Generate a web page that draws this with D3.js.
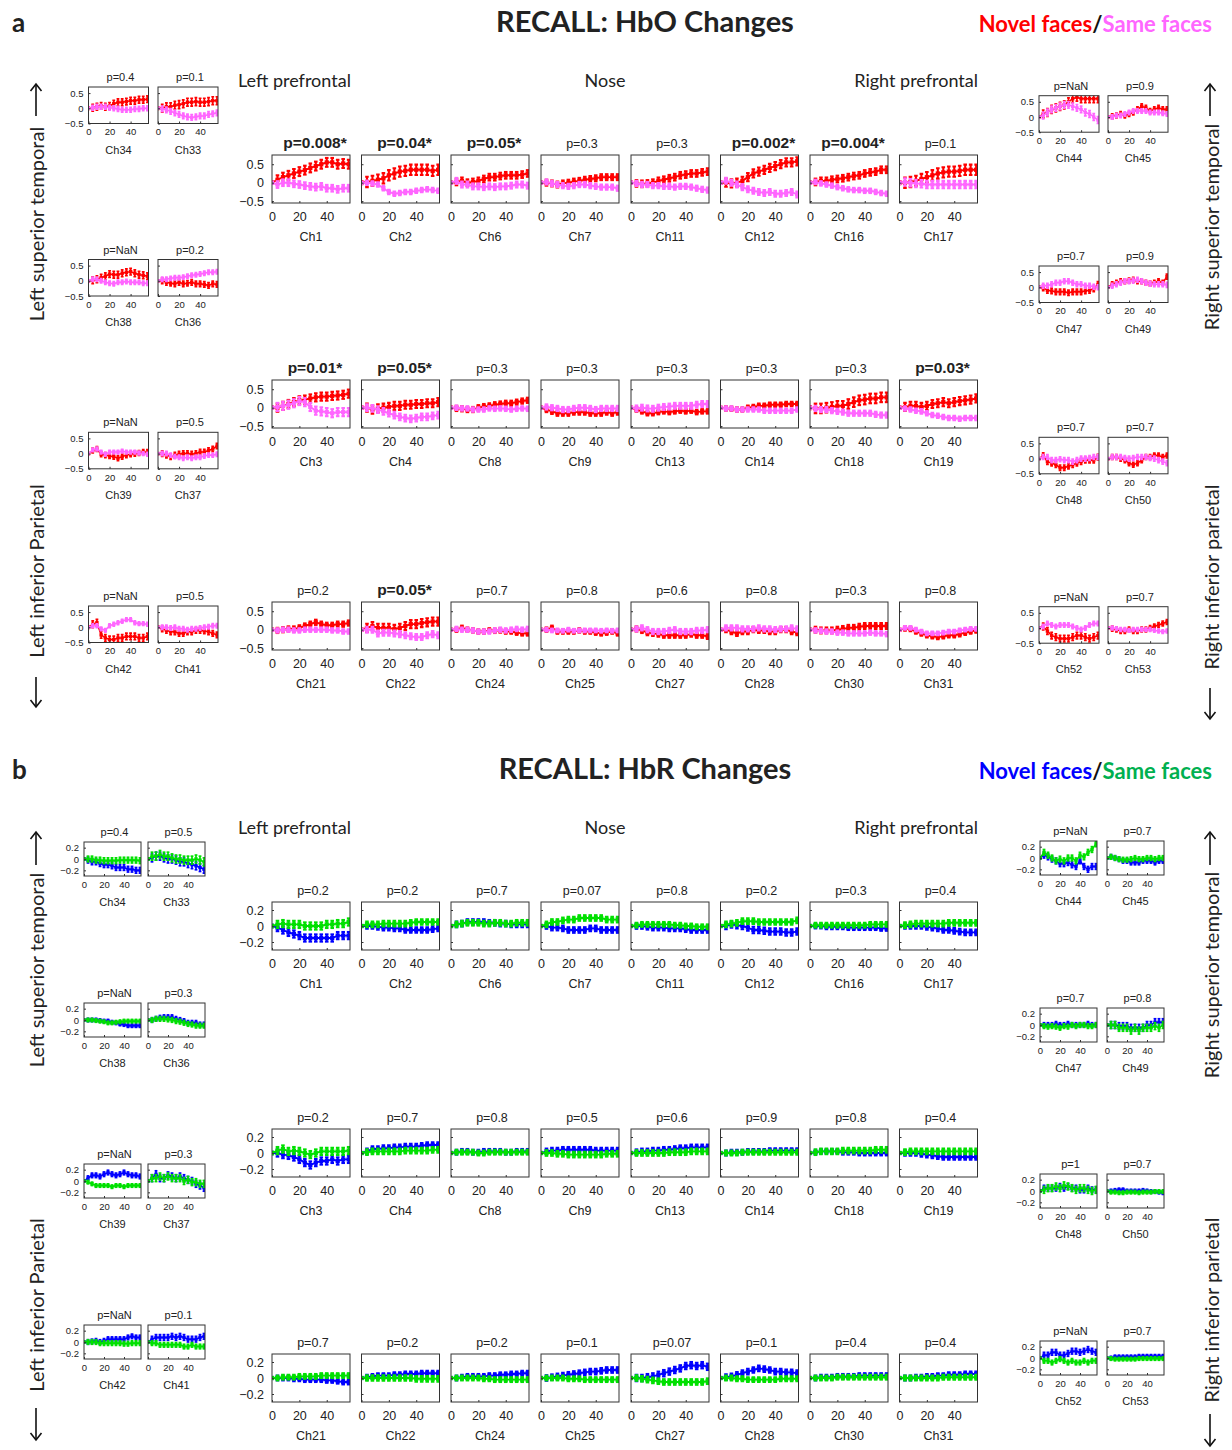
<!DOCTYPE html>
<html>
<head>
<meta charset="utf-8">
<script src="https://cdn.jsdelivr.net/npm/d3@7"></script>
<style>
  body { margin: 0; background: #fff; }
  svg text { font-family: "Liberation Sans", Arial, sans-serif; fill: #222; }
  svg text.cal { font-family: Lato, "Open Sans", sans-serif; }
</style>
</head>
<body>
<svg id="chart" width="1232" height="1450"></svg>
<script>
// time (s) of each sampled point
const timePoints = [0, 4, 8, 12, 16, 20, 24, 28, 32, 36, 40, 44, 48, 52, 56];

// channel layout
const midRows = [
  ["Ch1", "Ch2", "Ch6", "Ch7", "Ch11", "Ch12", "Ch16", "Ch17"],
  ["Ch3", "Ch4", "Ch8", "Ch9", "Ch13", "Ch14", "Ch18", "Ch19"],
  ["Ch21", "Ch22", "Ch24", "Ch25", "Ch27", "Ch28", "Ch30", "Ch31"]
];
const leftRows = [["Ch34", "Ch33"], ["Ch38", "Ch36"], ["Ch39", "Ch37"], ["Ch42", "Ch41"]];
const rightRows = [["Ch44", "Ch45"], ["Ch47", "Ch49"], ["Ch48", "Ch50"], ["Ch52", "Ch53"]];

// ---------- HbO ----------
const hboP = {
  Ch1: "0.008*", Ch2: "0.04*", Ch6: "0.05*", Ch7: "0.3", Ch11: "0.3", Ch12: "0.002*", Ch16: "0.004*", Ch17: "0.1",
  Ch3: "0.01*", Ch4: "0.05*", Ch8: "0.3", Ch9: "0.3", Ch13: "0.3", Ch14: "0.3", Ch18: "0.3", Ch19: "0.03*",
  Ch21: "0.2", Ch22: "0.05*", Ch24: "0.7", Ch25: "0.8", Ch27: "0.6", Ch28: "0.8", Ch30: "0.3", Ch31: "0.8",
  Ch34: "0.4", Ch33: "0.1", Ch38: "NaN", Ch36: "0.2", Ch39: "NaN", Ch37: "0.5", Ch42: "NaN", Ch41: "0.5",
  Ch44: "NaN", Ch45: "0.9", Ch47: "0.7", Ch49: "0.9", Ch48: "0.7", Ch50: "0.7", Ch52: "NaN", Ch53: "0.7"
};
const hboNovel = {
  Ch1: [0, 0.08, 0.15, 0.2, 0.25, 0.3, 0.34, 0.4, 0.45, 0.5, 0.55, 0.55, 0.5, 0.52, 0.5],
  Ch2: [0, 0.02, 0.05, 0.08, 0.12, 0.2, 0.25, 0.3, 0.32, 0.35, 0.35, 0.35, 0.35, 0.32, 0.35],
  Ch6: [0, 0.02, 0.05, 0, 0.02, 0.05, 0.1, 0.15, 0.15, 0.18, 0.2, 0.2, 0.2, 0.22, 0.25],
  Ch7: [0, 0, -0.02, -0.05, -0.02, 0, 0.03, 0.05, 0.08, 0.1, 0.12, 0.15, 0.15, 0.15, 0.15],
  Ch11: [0, -0.02, -0.03, -0.02, 0, 0.05, 0.08, 0.12, 0.15, 0.2, 0.22, 0.25, 0.25, 0.28, 0.3],
  Ch12: [0, 0, -0.02, 0, 0.05, 0.15, 0.25, 0.3, 0.35, 0.4, 0.45, 0.5, 0.55, 0.55, 0.58],
  Ch16: [0, 0.02, 0.05, 0.05, 0.08, 0.1, 0.12, 0.15, 0.18, 0.2, 0.25, 0.28, 0.3, 0.35, 0.35],
  Ch17: [0, 0, 0.02, 0.05, 0.1, 0.15, 0.2, 0.25, 0.28, 0.3, 0.3, 0.32, 0.35, 0.35, 0.35],
  Ch3: [0, 0, 0.05, 0.1, 0.15, 0.2, 0.22, 0.25, 0.28, 0.3, 0.3, 0.32, 0.33, 0.35, 0.38],
  Ch4: [0, 0, -0.05, -0.02, 0, 0.02, 0.05, 0.05, 0.08, 0.08, 0.1, 0.1, 0.12, 0.12, 0.15],
  Ch8: [0, -0.02, -0.03, -0.05, -0.05, 0, 0.03, 0.05, 0.08, 0.1, 0.12, 0.12, 0.15, 0.18, 0.2],
  Ch9: [0, -0.05, -0.1, -0.15, -0.15, -0.15, -0.12, -0.12, -0.12, -0.15, -0.15, -0.15, -0.12, -0.15, -0.12],
  Ch13: [0, -0.05, -0.1, -0.15, -0.15, -0.12, -0.1, -0.12, -0.1, -0.08, -0.1, -0.08, -0.12, -0.1, -0.1],
  Ch14: [0, -0.02, -0.03, -0.05, -0.05, 0, 0.02, 0.05, 0.05, 0.08, 0.08, 0.08, 0.1, 0.1, 0.1],
  Ch18: [0, -0.02, -0.02, 0, 0.02, 0.05, 0.05, 0.1, 0.15, 0.2, 0.22, 0.25, 0.25, 0.28, 0.28],
  Ch19: [0, 0.02, 0.05, 0.05, 0.02, 0.05, 0.1, 0.12, 0.15, 0.12, 0.15, 0.18, 0.2, 0.22, 0.25],
  Ch21: [0, -0.02, 0, 0.02, 0.02, 0.05, 0.1, 0.15, 0.2, 0.15, 0.12, 0.12, 0.15, 0.15, 0.18],
  Ch22: [0, 0.05, 0.1, 0.05, 0.05, 0.05, 0.02, 0.05, 0.1, 0.15, 0.15, 0.18, 0.2, 0.22, 0.22],
  Ch24: [0, 0, 0.05, 0, -0.02, -0.05, -0.05, -0.02, -0.03, -0.02, -0.05, -0.05, -0.08, -0.1, -0.1],
  Ch25: [0, 0, 0.05, -0.05, -0.05, -0.05, -0.05, -0.02, -0.05, -0.05, -0.08, -0.1, -0.08, -0.05, -0.1],
  Ch27: [0, 0.02, -0.02, -0.08, -0.1, -0.12, -0.15, -0.15, -0.15, -0.15, -0.15, -0.12, -0.15, -0.15, -0.18],
  Ch28: [0, 0, -0.05, -0.1, -0.05, -0.05, 0, -0.02, -0.02, -0.05, -0.05, 0, 0, -0.05, -0.08],
  Ch30: [0, 0, -0.02, -0.02, -0.02, 0, 0.02, 0.05, 0.05, 0.08, 0.1, 0.1, 0.1, 0.1, 0.1],
  Ch31: [0, 0.03, 0.02, -0.05, -0.1, -0.15, -0.18, -0.2, -0.18, -0.15, -0.15, -0.12, -0.08, -0.05, -0.02],
  Ch34: [0, 0.02, 0.05, 0.08, 0.05, 0.08, 0.15, 0.2, 0.2, 0.22, 0.25, 0.25, 0.28, 0.28, 0.3],
  Ch33: [0, 0, 0.05, 0.05, 0.1, 0.12, 0.15, 0.2, 0.2, 0.22, 0.2, 0.2, 0.22, 0.25, 0.25],
  Ch38: [0, 0.02, 0.05, 0.1, 0.15, 0.22, 0.2, 0.2, 0.25, 0.28, 0.3, 0.25, 0.2, 0.18, 0.15],
  Ch36: [0, 0, -0.05, -0.08, -0.1, -0.05, -0.1, -0.08, -0.05, -0.1, -0.1, -0.12, -0.15, -0.1, -0.12],
  Ch39: [0, 0.1, 0.15, -0.02, -0.05, -0.08, -0.1, -0.15, -0.1, -0.05, -0.02, 0, 0.02, 0.05, 0.05],
  Ch37: [0, 0, -0.05, -0.1, -0.05, -0.02, 0, 0, -0.02, 0, 0.05, 0.05, 0.1, 0.15, 0.25],
  Ch42: [0, 0.1, 0.15, -0.25, -0.35, -0.4, -0.4, -0.35, -0.35, -0.3, -0.3, -0.3, -0.35, -0.35, -0.3],
  Ch41: [0, -0.05, -0.1, -0.15, -0.15, -0.2, -0.2, -0.15, -0.15, -0.1, -0.1, -0.12, -0.15, -0.2, -0.25],
  Ch44: [0, 0.1, 0.15, 0.25, 0.3, 0.35, 0.4, 0.5, 0.6, 0.65, 0.6, 0.6, 0.6, 0.6, 0.6],
  Ch45: [0, 0.02, 0.05, 0.1, 0.05, 0.1, 0.15, 0.25, 0.35, 0.3, 0.2, 0.25, 0.3, 0.25, 0.25],
  Ch47: [0, -0.02, -0.1, -0.12, -0.15, -0.15, -0.15, -0.18, -0.15, -0.15, -0.15, -0.12, -0.1, -0.05, 0.1],
  Ch49: [0, 0.1, 0.15, 0.2, 0.2, 0.22, 0.25, 0.2, 0.2, 0.15, 0.12, 0.15, 0.2, 0.15, 0.35],
  Ch48: [0, 0.1, -0.1, -0.15, -0.2, -0.3, -0.3, -0.25, -0.2, -0.15, -0.1, -0.05, -0.05, -0.05, 0.05],
  Ch50: [0, 0.05, 0.05, 0, -0.05, -0.15, -0.2, -0.15, -0.05, 0.05, 0.05, 0.1, 0.1, 0.05, 0.1],
  Ch52: [0, 0.05, -0.1, -0.25, -0.3, -0.35, -0.35, -0.35, -0.3, -0.25, -0.25, -0.3, -0.35, -0.3, -0.25],
  Ch53: [0, -0.02, -0.05, -0.1, -0.1, -0.05, -0.1, -0.1, -0.05, -0.05, 0, 0.05, 0.1, 0.15, 0.2]
};
const hboSame = {
  Ch1: [0, -0.05, 0, 0, -0.03, -0.05, -0.08, -0.1, -0.12, -0.1, -0.15, -0.15, -0.18, -0.15, -0.15],
  Ch2: [0, 0, -0.02, -0.05, -0.15, -0.25, -0.3, -0.28, -0.25, -0.25, -0.22, -0.2, -0.18, -0.2, -0.22],
  Ch6: [0, 0.05, -0.05, -0.05, -0.1, -0.1, -0.12, -0.1, -0.12, -0.1, -0.1, -0.08, -0.05, -0.05, -0.08],
  Ch7: [0, 0.02, -0.02, -0.05, -0.08, -0.1, -0.08, -0.05, -0.05, -0.08, -0.1, -0.12, -0.12, -0.12, -0.15],
  Ch11: [0, -0.02, -0.05, -0.05, -0.08, -0.08, -0.1, -0.1, -0.12, -0.1, -0.1, -0.12, -0.15, -0.18, -0.2],
  Ch12: [0, 0.05, 0, -0.05, -0.12, -0.18, -0.22, -0.25, -0.28, -0.25, -0.3, -0.3, -0.28, -0.25, -0.32],
  Ch16: [0, 0.02, -0.02, -0.05, -0.08, -0.12, -0.15, -0.18, -0.2, -0.2, -0.22, -0.22, -0.25, -0.28, -0.3],
  Ch17: [0, 0.02, 0, -0.02, -0.03, -0.05, -0.05, -0.05, -0.05, -0.05, -0.05, -0.05, -0.05, -0.05, -0.05],
  Ch3: [0, 0.02, 0.05, 0.08, 0.12, 0.18, 0.15, 0.02, -0.08, -0.1, -0.12, -0.15, -0.12, -0.12, -0.12],
  Ch4: [0, 0, -0.02, -0.05, -0.1, -0.15, -0.2, -0.25, -0.28, -0.3, -0.28, -0.25, -0.25, -0.22, -0.2],
  Ch8: [0, 0, -0.02, -0.02, -0.05, -0.05, -0.05, -0.02, -0.03, -0.02, -0.03, -0.05, -0.03, -0.02, -0.03],
  Ch9: [0, 0.02, 0, -0.02, -0.05, -0.05, -0.02, 0, 0, -0.02, -0.05, -0.02, -0.02, -0.02, -0.02],
  Ch13: [0, -0.02, 0, -0.02, -0.03, 0, 0.02, 0.03, 0.05, 0.05, 0.05, 0.05, 0.08, 0.1, 0.1],
  Ch14: [0, -0.02, -0.02, -0.05, -0.05, -0.05, -0.05, -0.05, -0.08, -0.08, -0.08, -0.08, -0.08, -0.08, -0.05],
  Ch18: [0, -0.02, -0.05, -0.05, -0.08, -0.1, -0.12, -0.15, -0.15, -0.15, -0.15, -0.15, -0.18, -0.2, -0.2],
  Ch19: [0, -0.02, -0.05, -0.08, -0.1, -0.15, -0.2, -0.22, -0.25, -0.28, -0.28, -0.3, -0.28, -0.28, -0.28],
  Ch21: [0, -0.02, 0, 0, -0.02, -0.02, 0, 0, 0, 0, 0, -0.02, -0.02, -0.05, -0.05],
  Ch22: [0, 0, 0, -0.1, -0.08, -0.08, -0.1, -0.12, -0.15, -0.18, -0.2, -0.2, -0.15, -0.12, -0.15],
  Ch24: [0, 0.02, 0, 0, -0.02, -0.05, -0.05, -0.05, -0.02, 0, -0.02, 0, 0.02, 0, 0.02],
  Ch25: [0, 0, -0.02, -0.02, -0.03, 0, -0.03, -0.02, -0.02, -0.02, -0.02, -0.03, -0.02, -0.03, -0.02],
  Ch27: [0, 0.02, 0.05, 0, -0.05, -0.05, -0.05, -0.02, 0, -0.05, -0.05, -0.05, -0.02, -0.02, 0],
  Ch28: [0, 0.05, 0.05, 0.05, 0.02, 0.02, 0.02, 0.05, 0.02, 0.02, 0, 0.02, 0.02, 0.05, 0.02],
  Ch30: [0, -0.02, -0.03, -0.05, -0.05, -0.08, -0.08, -0.1, -0.1, -0.1, -0.1, -0.08, -0.1, -0.1, -0.12],
  Ch31: [0, 0.05, 0.05, 0, -0.05, -0.1, -0.1, -0.1, -0.08, -0.05, -0.05, -0.02, 0, 0.02, 0.02],
  Ch34: [0, 0.02, 0.05, 0.05, 0.05, 0.02, 0, -0.02, -0.05, -0.05, -0.05, -0.02, -0.02, 0, 0],
  Ch33: [0, -0.02, -0.05, -0.1, -0.15, -0.2, -0.25, -0.28, -0.3, -0.28, -0.25, -0.25, -0.2, -0.18, -0.15],
  Ch38: [0, 0.05, 0.05, 0, -0.05, -0.08, -0.1, -0.05, -0.05, -0.02, -0.05, -0.05, -0.05, -0.08, -0.08],
  Ch36: [0, 0.05, 0.05, 0.08, 0.1, 0.1, 0.12, 0.15, 0.18, 0.2, 0.22, 0.25, 0.28, 0.28, 0.3],
  Ch39: [0, 0.12, 0.15, 0.05, -0.02, 0.05, 0.05, 0.05, 0.08, 0.05, 0.05, 0.05, 0.02, 0, -0.02],
  Ch37: [0, 0, 0, -0.05, -0.1, -0.12, -0.15, -0.12, -0.15, -0.12, -0.12, -0.08, -0.05, -0.05, -0.02],
  Ch42: [0, 0.05, 0.05, -0.05, -0.1, 0.05, 0.1, 0.15, 0.2, 0.25, 0.25, 0.15, 0.12, 0.12, 0.1],
  Ch41: [0, 0, 0, -0.02, 0, -0.05, -0.05, -0.08, -0.05, -0.05, -0.02, 0, 0.02, 0.05, 0.05],
  Ch44: [0, 0.05, 0.15, 0.25, 0.3, 0.35, 0.4, 0.4, 0.35, 0.3, 0.25, 0.15, 0.1, 0, -0.1],
  Ch45: [0, 0, 0.05, 0.05, 0.1, 0.15, 0.2, 0.2, 0.2, 0.2, 0.15, 0.15, 0.15, 0.12, 0.1],
  Ch47: [0, 0.05, 0.05, 0.1, 0.15, 0.15, 0.2, 0.2, 0.15, 0.1, 0.1, 0.05, 0.05, 0.02, 0],
  Ch49: [0, 0.05, 0.1, 0.15, 0.2, 0.2, 0.22, 0.25, 0.2, 0.15, 0.12, 0.1, 0.1, 0.1, 0.08],
  Ch48: [0, 0.05, 0.05, -0.05, -0.05, -0.02, -0.05, -0.05, -0.1, -0.05, 0, 0, 0.02, 0.05, 0.05],
  Ch50: [0, 0.05, 0.05, 0.05, 0.02, 0, 0.02, 0.05, 0.05, 0.05, 0.02, 0, -0.05, -0.1, -0.15],
  Ch52: [0, 0.05, 0.15, 0.1, 0.05, 0.1, 0.1, 0.1, 0.05, 0, -0.05, 0, 0.1, 0.15, 0.15],
  Ch53: [0, 0, -0.02, -0.05, -0.05, -0.08, -0.05, -0.05, -0.05, -0.05, -0.05, -0.08, -0.1, -0.12, -0.1]
};
const hboNovelErr = {
  Ch1: 0.12, Ch2: 0.14, Ch6: 0.09, Ch7: 0.08, Ch11: 0.09, Ch12: 0.11, Ch16: 0.09, Ch17: 0.14,
  Ch3: 0.11, Ch4: 0.11, Ch8: 0.07, Ch9: 0.07, Ch13: 0.06, Ch14: 0.06, Ch18: 0.13, Ch19: 0.11,
  Ch21: 0.07, Ch22: 0.11, Ch24: 0.06, Ch25: 0.06, Ch27: 0.07, Ch28: 0.07, Ch30: 0.08, Ch31: 0.06,
  Ch34: 0.11, Ch33: 0.13, Ch38: 0.11, Ch36: 0.09, Ch39: 0.08, Ch37: 0.09, Ch42: 0.11, Ch41: 0.09,
  Ch44: 0.13, Ch45: 0.08, Ch47: 0.09, Ch49: 0.08, Ch48: 0.09, Ch50: 0.08, Ch52: 0.11, Ch53: 0.08
};
const hboSameErr = {
  Ch1: 0.09, Ch2: 0.06, Ch6: 0.08, Ch7: 0.07, Ch11: 0.07, Ch12: 0.08, Ch16: 0.06, Ch17: 0.1,
  Ch3: 0.11, Ch4: 0.09, Ch8: 0.06, Ch9: 0.07, Ch13: 0.08, Ch14: 0.06, Ch18: 0.07, Ch19: 0.06,
  Ch21: 0.06, Ch22: 0.08, Ch24: 0.06, Ch25: 0.05, Ch27: 0.07, Ch28: 0.07, Ch30: 0.06, Ch31: 0.05,
  Ch34: 0.08, Ch33: 0.09, Ch38: 0.07, Ch36: 0.07, Ch39: 0.06, Ch37: 0.07, Ch42: 0.06, Ch41: 0.07,
  Ch44: 0.11, Ch45: 0.07, Ch47: 0.08, Ch49: 0.08, Ch48: 0.08, Ch50: 0.08, Ch52: 0.07, Ch53: 0.06
};

// ---------- HbR ----------
const hbrP = {
  Ch1: "0.2", Ch2: "0.2", Ch6: "0.7", Ch7: "0.07", Ch11: "0.8", Ch12: "0.2", Ch16: "0.3", Ch17: "0.4",
  Ch3: "0.2", Ch4: "0.7", Ch8: "0.8", Ch9: "0.5", Ch13: "0.6", Ch14: "0.9", Ch18: "0.8", Ch19: "0.4",
  Ch21: "0.7", Ch22: "0.2", Ch24: "0.2", Ch25: "0.1", Ch27: "0.07", Ch28: "0.1", Ch30: "0.4", Ch31: "0.4",
  Ch34: "0.4", Ch33: "0.5", Ch38: "NaN", Ch36: "0.3", Ch39: "NaN", Ch37: "0.3", Ch42: "NaN", Ch41: "0.1",
  Ch44: "NaN", Ch45: "0.7", Ch47: "0.7", Ch49: "0.8", Ch48: "1", Ch50: "0.7", Ch52: "NaN", Ch53: "0.7"
};
const hbrNovel = {
  Ch1: [0, -0.02, -0.05, -0.08, -0.1, -0.12, -0.15, -0.15, -0.15, -0.15, -0.15, -0.15, -0.12, -0.12, -0.12],
  Ch2: [0, 0, 0, -0.01, -0.02, -0.02, -0.03, -0.03, -0.05, -0.05, -0.05, -0.05, -0.05, -0.04, -0.03],
  Ch6: [0, 0.02, 0.03, 0.05, 0.05, 0.05, 0.05, 0.04, 0.04, 0.03, 0.03, 0.02, 0.02, 0.02, 0.02],
  Ch7: [0, 0, -0.02, -0.02, -0.03, -0.05, -0.05, -0.05, -0.05, -0.03, -0.03, -0.05, -0.05, -0.05, -0.05],
  Ch11: [0, 0, 0, -0.01, -0.02, -0.02, -0.02, -0.03, -0.03, -0.03, -0.04, -0.05, -0.05, -0.05, -0.05],
  Ch12: [0, 0, 0.02, 0.01, 0, -0.02, -0.05, -0.05, -0.06, -0.07, -0.07, -0.07, -0.08, -0.08, -0.07],
  Ch16: [0, 0, 0, -0.01, -0.01, -0.01, -0.01, -0.02, -0.02, -0.02, -0.02, -0.02, -0.02, -0.03, -0.03],
  Ch17: [0, 0, 0, 0, 0, -0.01, -0.02, -0.03, -0.05, -0.05, -0.06, -0.07, -0.08, -0.08, -0.08],
  Ch3: [0, 0, -0.02, -0.03, -0.05, -0.08, -0.12, -0.15, -0.12, -0.1, -0.1, -0.08, -0.1, -0.08, -0.08],
  Ch4: [0, 0.02, 0.05, 0.05, 0.06, 0.06, 0.07, 0.07, 0.08, 0.08, 0.08, 0.09, 0.1, 0.1, 0.1],
  Ch8: [0, 0.01, 0.02, 0.02, 0.01, 0.01, 0.02, 0.02, 0.02, 0.02, 0.01, 0.01, 0.02, 0.02, 0.02],
  Ch9: [0, 0.02, 0.03, 0.03, 0.04, 0.04, 0.04, 0.04, 0.04, 0.04, 0.03, 0.03, 0.03, 0.03, 0.03],
  Ch13: [0, 0.01, 0.02, 0.02, 0.03, 0.03, 0.04, 0.04, 0.05, 0.06, 0.06, 0.07, 0.07, 0.07, 0.07],
  Ch14: [0, 0, 0.01, 0.01, 0.01, 0.02, 0.02, 0.02, 0.02, 0.03, 0.03, 0.03, 0.03, 0.03, 0.03],
  Ch18: [0, 0.01, 0.02, 0.02, 0.02, 0.02, 0.01, 0.01, 0.01, 0, 0, 0, 0, 0, 0],
  Ch19: [0, 0, 0, 0, -0.01, -0.02, -0.03, -0.04, -0.05, -0.05, -0.05, -0.05, -0.05, -0.05, -0.05],
  Ch21: [0, 0, 0, 0, -0.01, -0.01, -0.02, -0.02, -0.02, -0.02, -0.03, -0.03, -0.04, -0.05, -0.05],
  Ch22: [0, 0.01, 0.02, 0.03, 0.03, 0.03, 0.04, 0.04, 0.05, 0.05, 0.05, 0.06, 0.06, 0.06, 0.06],
  Ch24: [0, 0, 0.01, 0.02, 0.02, 0.02, 0.02, 0.03, 0.03, 0.04, 0.04, 0.05, 0.05, 0.06, 0.06],
  Ch25: [0, 0, 0.01, 0.02, 0.03, 0.04, 0.05, 0.06, 0.07, 0.08, 0.08, 0.09, 0.1, 0.1, 0.1],
  Ch27: [0, 0, 0, 0.01, 0.02, 0.04, 0.06, 0.08, 0.1, 0.12, 0.15, 0.16, 0.15, 0.16, 0.14],
  Ch28: [0, 0.01, 0.02, 0.04, 0.06, 0.08, 0.1, 0.12, 0.11, 0.1, 0.08, 0.08, 0.07, 0.07, 0.06],
  Ch30: [0, 0, 0.01, 0.01, 0.01, 0.02, 0.02, 0.02, 0.02, 0.03, 0.03, 0.03, 0.03, 0.03, 0.03],
  Ch31: [0, 0, 0, 0.01, 0.01, 0.02, 0.02, 0.03, 0.03, 0.04, 0.04, 0.04, 0.05, 0.05, 0.05],
  Ch34: [0, -0.02, -0.05, -0.05, -0.08, -0.1, -0.1, -0.12, -0.15, -0.15, -0.15, -0.18, -0.18, -0.2, -0.2],
  Ch33: [0, 0.02, 0.05, 0.05, 0.02, 0, 0, -0.02, -0.05, -0.05, -0.08, -0.1, -0.12, -0.15, -0.18],
  Ch38: [0, 0, 0, 0, -0.01, -0.02, -0.02, -0.04, -0.05, -0.07, -0.08, -0.1, -0.1, -0.1, -0.1],
  Ch36: [0, 0, 0.02, 0.04, 0.05, 0.05, 0.05, 0.02, 0, -0.02, -0.05, -0.05, -0.05, -0.08, -0.08],
  Ch39: [0, 0.05, 0.1, 0.1, 0.08, 0.12, 0.15, 0.12, 0.1, 0.12, 0.15, 0.12, 0.1, 0.1, 0.08],
  Ch37: [0, 0.05, 0.12, 0.05, 0.05, 0.1, 0.08, 0.05, 0.08, 0.05, 0.02, 0, -0.05, -0.08, -0.12],
  Ch42: [0, 0, 0.01, 0.02, 0, 0.02, 0.05, 0.05, 0.05, 0.05, 0.05, 0.08, 0.1, 0.08, 0.08],
  Ch41: [0, 0.05, 0.08, 0.08, 0.08, 0.08, 0.1, 0.08, 0.1, 0.08, 0.05, 0.05, 0.05, 0.08, 0.1],
  Ch44: [0, 0.05, 0.02, -0.02, -0.05, -0.1, -0.1, -0.08, -0.12, -0.15, -0.05, -0.15, -0.2, -0.15, -0.15],
  Ch45: [0, 0.02, 0, -0.02, -0.05, -0.05, -0.08, -0.08, -0.08, -0.05, -0.05, -0.05, -0.08, -0.05, -0.05],
  Ch47: [0, 0, 0, 0, 0.02, 0, 0, 0.02, 0, 0, 0, 0, 0.02, 0, 0],
  Ch49: [0, 0, 0, -0.02, -0.02, -0.02, -0.05, -0.05, -0.05, -0.05, 0, 0, 0.05, 0.05, 0.05],
  Ch48: [0, 0.05, 0.05, 0.05, 0.05, 0.08, 0.05, 0.08, 0.05, 0.05, 0.02, 0.02, 0.05, 0.02, 0.02],
  Ch50: [0, 0, 0.01, 0.02, 0.02, 0, 0, 0, 0, 0.01, 0, -0.01, -0.01, -0.02, -0.03],
  Ch52: [0, 0.05, 0.05, 0.1, 0.1, 0.05, 0.05, 0.08, 0.12, 0.12, 0.1, 0.12, 0.15, 0.12, 0.1],
  Ch53: [0, 0, 0.02, 0.02, 0.02, 0.02, 0.02, 0.02, 0.03, 0.03, 0.03, 0.03, 0.03, 0.03, 0.03]
};
const hbrSame = {
  Ch1: [0, 0.02, 0.03, 0.02, 0.02, 0.02, 0, 0, 0, 0, 0.02, 0.02, 0.03, 0.03, 0.05],
  Ch2: [0, 0.02, 0.02, 0.02, 0.03, 0.03, 0.03, 0.03, 0.03, 0.04, 0.05, 0.05, 0.05, 0.05, 0.05],
  Ch6: [0, 0.02, 0.03, 0.04, 0.04, 0.04, 0.03, 0.03, 0.04, 0.04, 0.03, 0.03, 0.04, 0.04, 0.04],
  Ch7: [0, 0.02, 0.05, 0.05, 0.07, 0.08, 0.08, 0.1, 0.1, 0.1, 0.1, 0.1, 0.08, 0.08, 0.08],
  Ch11: [0, 0.01, 0.02, 0.02, 0.02, 0.02, 0.02, 0.02, 0.01, 0.01, 0, 0, -0.01, -0.01, -0.01],
  Ch12: [0, 0.02, 0.03, 0.04, 0.06, 0.06, 0.06, 0.05, 0.05, 0.05, 0.05, 0.05, 0.05, 0.05, 0.07],
  Ch16: [0, 0.01, 0.01, 0.01, 0.01, 0.01, 0.01, 0.01, 0.01, 0.01, 0.01, 0.02, 0.02, 0.02, 0.02],
  Ch17: [0, 0.01, 0.02, 0.03, 0.03, 0.03, 0.03, 0.03, 0.03, 0.04, 0.04, 0.04, 0.04, 0.04, 0.04],
  Ch3: [0, 0.03, 0.05, 0.02, 0.03, 0.02, 0, -0.02, 0, 0.02, 0.02, 0.02, 0.02, 0.02, 0.03],
  Ch4: [0, 0.01, 0.02, 0.02, 0.02, 0.02, 0.02, 0.02, 0.03, 0.03, 0.03, 0.03, 0.03, 0.04, 0.04],
  Ch8: [0, 0.01, 0.01, 0.01, 0.01, 0, 0, 0.01, 0.01, 0.01, 0.01, 0.01, 0.01, 0.01, 0.01],
  Ch9: [0, 0, 0, -0.01, -0.01, -0.02, -0.02, -0.02, -0.02, -0.02, -0.02, -0.02, -0.01, -0.01, -0.01],
  Ch13: [0, 0, 0, 0, 0, 0, 0, 0.01, 0.01, 0.01, 0.01, 0.02, 0.02, 0.02, 0.02],
  Ch14: [0, 0, 0, 0, 0.01, 0.01, 0.01, 0.01, 0.01, 0.01, 0.01, 0.01, 0.01, 0.01, 0.01],
  Ch18: [0, 0.01, 0.02, 0.02, 0.02, 0.02, 0.03, 0.03, 0.03, 0.03, 0.03, 0.03, 0.04, 0.04, 0.04],
  Ch19: [0, 0.01, 0.02, 0.02, 0.02, 0.02, 0.02, 0.02, 0.02, 0.02, 0.02, 0.02, 0.02, 0.02, 0.02],
  Ch21: [0, 0, 0.01, 0.01, 0.01, 0.02, 0.02, 0.02, 0.02, 0.03, 0.03, 0.03, 0.03, 0.03, 0.03],
  Ch22: [0, 0, 0, 0, 0, 0, 0, 0, 0, 0, -0.01, -0.01, -0.01, -0.01, -0.01],
  Ch24: [0, 0, 0, 0, 0, 0, -0.01, -0.01, -0.02, -0.02, -0.02, -0.02, -0.02, -0.02, -0.02],
  Ch25: [0, 0, 0, 0, 0, -0.01, -0.01, -0.01, -0.02, -0.02, -0.02, -0.02, -0.02, -0.02, -0.02],
  Ch27: [0, 0, -0.01, -0.02, -0.03, -0.04, -0.05, -0.05, -0.05, -0.05, -0.05, -0.05, -0.05, -0.05, -0.04],
  Ch28: [0, 0, 0, -0.01, -0.01, -0.02, -0.02, -0.02, -0.02, -0.02, -0.02, -0.01, -0.01, -0.01, -0.01],
  Ch30: [0, 0, 0, 0, 0, 0.01, 0.01, 0.01, 0.01, 0.01, 0.01, 0.01, 0.01, 0.01, 0.01],
  Ch31: [0, 0, 0, 0, 0, 0, 0, 0, 0.01, 0.01, 0.01, 0.01, 0.01, 0.01, 0.01],
  Ch34: [0, 0, 0, -0.02, -0.02, -0.03, -0.03, -0.03, -0.03, -0.02, -0.02, -0.02, -0.02, -0.02, -0.03],
  Ch33: [0, 0.05, 0.05, 0.08, 0.05, 0.05, 0.02, 0, 0, -0.02, -0.02, -0.02, 0, -0.02, -0.05],
  Ch38: [0, 0, 0, -0.01, -0.02, -0.03, -0.05, -0.05, -0.04, -0.03, -0.02, -0.02, -0.02, -0.02, -0.02],
  Ch36: [0, 0, 0.02, 0.02, 0.02, 0.01, 0, -0.02, -0.03, -0.05, -0.07, -0.08, -0.1, -0.1, -0.1],
  Ch39: [0, -0.02, -0.05, -0.08, -0.08, -0.08, -0.08, -0.1, -0.08, -0.08, -0.1, -0.08, -0.08, -0.08, -0.08],
  Ch37: [0, 0.05, 0.05, 0.08, 0.05, 0.08, 0.05, 0.05, 0.05, 0, 0.02, -0.02, -0.02, -0.05, -0.05],
  Ch42: [0, 0, 0, 0, -0.02, -0.02, -0.02, -0.02, -0.02, -0.02, -0.03, -0.03, -0.02, -0.02, -0.02],
  Ch41: [0, -0.02, -0.02, -0.05, -0.05, -0.05, -0.05, -0.05, -0.05, -0.08, -0.08, -0.05, -0.08, -0.08, -0.08],
  Ch44: [0, 0.1, 0.05, 0, -0.05, -0.02, -0.05, 0, 0, -0.05, 0.05, 0.02, 0.1, 0.15, 0.25],
  Ch45: [0, 0.02, 0, -0.02, -0.03, -0.03, -0.02, 0, -0.02, -0.02, 0, 0, -0.02, 0, 0],
  Ch47: [0, -0.02, -0.03, -0.02, -0.03, -0.05, -0.02, -0.03, 0, -0.02, 0, 0, -0.02, -0.02, 0],
  Ch49: [0, 0, 0, -0.05, -0.05, -0.05, -0.1, -0.05, -0.1, -0.05, -0.05, -0.05, -0.02, -0.05, 0],
  Ch48: [0, 0.02, 0.05, 0.05, 0.08, 0.05, 0.1, 0.08, 0.05, 0.02, 0.05, 0.05, 0.02, 0, 0.02],
  Ch50: [0, -0.02, -0.02, -0.03, -0.03, -0.02, -0.02, -0.02, -0.03, -0.02, -0.02, -0.02, -0.01, -0.01, -0.01],
  Ch52: [0, -0.05, -0.05, -0.08, -0.05, -0.02, -0.05, -0.08, -0.05, -0.08, -0.08, -0.05, -0.08, -0.05, -0.05],
  Ch53: [0, -0.01, -0.02, -0.02, -0.02, -0.02, -0.02, -0.02, -0.01, -0.01, -0.01, -0.01, -0.01, -0.01, -0.01]
};
const hbrNovelErr = {
  Ch1: 0.045, Ch2: 0.035, Ch6: 0.035, Ch7: 0.035, Ch11: 0.035, Ch12: 0.04, Ch16: 0.03, Ch17: 0.035,
  Ch3: 0.045, Ch4: 0.035, Ch8: 0.03, Ch9: 0.035, Ch13: 0.035, Ch14: 0.03, Ch18: 0.03, Ch19: 0.035,
  Ch21: 0.03, Ch22: 0.03, Ch24: 0.03, Ch25: 0.035, Ch27: 0.04, Ch28: 0.035, Ch30: 0.03, Ch31: 0.03,
  Ch34: 0.05, Ch33: 0.07, Ch38: 0.03, Ch36: 0.04, Ch39: 0.04, Ch37: 0.06, Ch42: 0.04, Ch41: 0.05,
  Ch44: 0.05, Ch45: 0.04, Ch47: 0.04, Ch49: 0.06, Ch48: 0.05, Ch50: 0.03, Ch52: 0.05, Ch53: 0.03
};
const hbrSameErr = {
  Ch1: 0.045, Ch2: 0.035, Ch6: 0.035, Ch7: 0.035, Ch11: 0.03, Ch12: 0.035, Ch16: 0.03, Ch17: 0.035,
  Ch3: 0.045, Ch4: 0.035, Ch8: 0.03, Ch9: 0.035, Ch13: 0.035, Ch14: 0.03, Ch18: 0.035, Ch19: 0.035,
  Ch21: 0.03, Ch22: 0.035, Ch24: 0.03, Ch25: 0.03, Ch27: 0.035, Ch28: 0.03, Ch30: 0.03, Ch31: 0.03,
  Ch34: 0.05, Ch33: 0.07, Ch38: 0.03, Ch36: 0.04, Ch39: 0.03, Ch37: 0.06, Ch42: 0.04, Ch41: 0.04,
  Ch44: 0.05, Ch45: 0.04, Ch47: 0.04, Ch49: 0.06, Ch48: 0.06, Ch50: 0.03, Ch52: 0.04, Ch53: 0.03
};

// ---------- layout ----------
const svg = d3.select("#chart");
let clipId = 0;

function drawPlot(g, o) {
  const x = d3.scaleLinear().domain([0, 57]).range([o.x, o.x + o.w]);
  const y = d3.scaleLinear().domain(o.yDomain).range([o.y + o.h, o.y]);

  const id = "clip" + (clipId++);
  g.append("clipPath").attr("id", id)
    .append("rect").attr("x", o.x).attr("y", o.y).attr("width", o.w).attr("height", o.h);

  const plot = g.append("g").attr("clip-path", "url(#" + id + ")");
  [[o.novel, o.novelErr, o.colors[0]], [o.same, o.sameErr, o.colors[1]]].forEach(function(s) {
    const pts = timePoints.map(function(t, i) { return { t: t, v: s[0][i] }; });
    plot.append("path")
      .attr("d", d3.line().x(function(d) { return x(d.t); }).y(function(d) { return y(d.v); })(pts))
      .attr("fill", "none").attr("stroke", s[2]).attr("stroke-width", o.lw * 0.9);
    const bars = plot.append("g").attr("stroke", s[2]).attr("stroke-width", o.lw);
    pts.forEach(function(d) {
      const e = d.t === 0 ? s[1] * 0.3 : s[1];
      const cx = x(d.t), y0 = y(d.v - e), y1 = y(d.v + e);
      bars.append("line").attr("x1", cx).attr("x2", cx).attr("y1", y0).attr("y2", y1);
      bars.append("line").attr("x1", cx - o.cap).attr("x2", cx + o.cap).attr("y1", y0).attr("y2", y0);
      bars.append("line").attr("x1", cx - o.cap).attr("x2", cx + o.cap).attr("y1", y1).attr("y2", y1);
      bars.append("rect").attr("x", cx - o.lw).attr("y", y(d.v) - o.lw)
        .attr("width", o.lw * 2).attr("height", o.lw * 2).attr("fill", s[2]).attr("stroke", "none");
    });
  });

  // frame
  g.append("rect").attr("x", o.x).attr("y", o.y).attr("width", o.w).attr("height", o.h)
    .attr("fill", "none").attr("stroke", "#333").attr("stroke-width", 1);

  // x axis
  const xa = g.append("g").attr("transform", "translate(0," + (o.y + o.h) + ")")
    .call(d3.axisBottom(x).tickValues([0, 20, 40]).tickSizeInner(-2).tickSizeOuter(0).tickPadding(o.xPad));
  xa.select(".domain").remove();
  xa.selectAll("line").attr("stroke", "#333");
  xa.selectAll("text").attr("font-size", o.tickFont).attr("fill", "#222")
    .attr("font-family", "Liberation Sans, Arial, sans-serif");

  const ya = g.append("g").attr("transform", "translate(" + o.x + ",0)")
    .call(d3.axisLeft(y).tickValues(o.yTicks).tickSizeInner(-2).tickSizeOuter(0).tickPadding(o.yPad)
      .tickFormat(o.showY ? d3.format("") : ""));
  ya.select(".domain").remove();
  ya.selectAll("line").attr("stroke", "#333");
  ya.selectAll("text").attr("font-size", o.tickFont).attr("fill", "#222")
    .attr("font-family", "Liberation Sans, Arial, sans-serif");

  // channel name
  g.append("text").attr("x", o.x + o.w / 2).attr("y", o.y + o.h + o.chDy)
    .attr("text-anchor", "middle").attr("font-size", o.chFont).text(o.name);

  // p value
  const sig = o.p.indexOf("*") >= 0;
  g.append("text").attr("x", o.x + o.w / 2 + (sig ? 4 : 2)).attr("y", o.y - o.pDy)
    .attr("text-anchor", "middle")
    .attr("font-size", sig ? o.sigFont : o.chFont)
    .attr("font-weight", sig ? "bold" : "normal")
    .text("p=" + o.p);
}

function sideLabel(x, cy, text) {
  svg.append("text").attr("class", "cal")
    .attr("transform", "translate(" + x + "," + cy + ") rotate(-90)")
    .attr("text-anchor", "middle").attr("dy", "0.35em")
    .attr("font-size", 20).text(text);
}

function arrow(x, y1, y2) {
  const dir = y2 < y1 ? 1 : -1;
  svg.append("line").attr("x1", x).attr("x2", x).attr("y1", y1).attr("y2", y2 + dir * 1)
    .attr("stroke", "#111").attr("stroke-width", 1.6);
  svg.append("path")
    .attr("d", "M" + (x - 5.5) + "," + (y2 + dir * 7) + "L" + x + "," + y2 + "L" + (x + 5.5) + "," + (y2 + dir * 7))
    .attr("fill", "none").attr("stroke", "#111").attr("stroke-width", 1.6);
}

const panels = [
  {
    letter: "a", title: "RECALL: HbO Changes", top: 0,
    p: hboP, novel: hboNovel, same: hboSame, novelErr: hboNovelErr, sameErr: hboSameErr,
    colors: ["#ff0000", "#ff66ff"], legendColors: ["#ff0000", "#ff66ff"],
    midDomain: [-0.55, 0.75], smallDomain: [-0.5, 0.7], yTicks: [-0.5, 0, 0.5],
    midTops: [155, 380, 602], leftTops: [87, 259.5, 432.3, 606], rightTops: [95.7, 266, 437.3, 606.7],
    leftX: [88.5, 158], rightX: [1039, 1108], smallW: 60, smallH: 36.5,
    sideL: [224, 571], sideR: [227, 577],
    arrowsL: [[116, 84], [677, 707]], arrowsR: [[116, 84], [688, 719]]
  },
  {
    letter: "b", title: "RECALL: HbR Changes", top: 747,
    p: hbrP, novel: hbrNovel, same: hbrSame, novelErr: hbrNovelErr, sameErr: hbrSameErr,
    colors: ["#0000ff", "#00e000"], legendColors: ["#0000ff", "#00b050"],
    midDomain: [-0.3, 0.3], smallDomain: [-0.3, 0.3], yTicks: [-0.2, 0, 0.2],
    midTops: [902, 1129, 1354], leftTops: [842, 1003, 1164, 1325], rightTops: [841, 1008, 1174, 1341],
    leftX: [84, 148], rightX: [1040, 1107], smallW: 57, smallH: 34,
    sideL: [970, 1305], sideR: [975, 1310],
    arrowsL: [[865, 832], [1408, 1440]], arrowsR: [[865, 832], [1414, 1446]]
  }
];

const midX = [272, 361.5, 451, 541, 631, 720.5, 810, 899.5];

panels.forEach(function(P) {
  const g = svg.append("g");
  const t = P.top;

  g.append("text").attr("class", "cal").attr("x", 12).attr("y", t + 32)
    .attr("font-size", 26).attr("font-weight", "bold").text(P.letter);
  g.append("text").attr("class", "cal").attr("x", 645).attr("y", t + 32)
    .attr("text-anchor", "middle").attr("font-size", 29).attr("font-weight", "bold").text(P.title);
  const leg = g.append("text").attr("class", "cal").attr("x", 1212).attr("y", t + 32)
    .attr("text-anchor", "end").attr("font-size", 22).attr("font-weight", "bold");
  leg.append("tspan").attr("fill", P.legendColors[0]).text("Novel faces");
  leg.append("tspan").attr("fill", "#111").text("/");
  leg.append("tspan").attr("fill", P.legendColors[1]).text("Same faces");

  g.append("text").attr("class", "cal").attr("x", 238).attr("y", t + 87).attr("font-size", 18).text("Left prefrontal");
  g.append("text").attr("class", "cal").attr("x", 605).attr("y", t + 87).attr("text-anchor", "middle").attr("font-size", 18).text("Nose");
  g.append("text").attr("class", "cal").attr("x", 978).attr("y", t + 87).attr("text-anchor", "end").attr("font-size", 18).text("Right prefrontal");

  function common(name, showY) {
    return {
      name: name, p: P.p[name], showY: showY,
      novel: P.novel[name], same: P.same[name],
      novelErr: P.novelErr[name], sameErr: P.sameErr[name],
      colors: P.colors, yTicks: P.yTicks
    };
  }

  midRows.forEach(function(row, r) {
    row.forEach(function(name, c) {
      const o = common(name, c === 0);
      Object.assign(o, {
        x: midX[c], y: P.midTops[r], w: 78, h: 48, yDomain: P.midDomain,
        lw: 2.1, cap: 1.8, tickFont: 12.5, chFont: 12.5, sigFont: 15.5,
        xPad: 9, yPad: 8, chDy: 38, pDy: 7
      });
      drawPlot(g, o);
    });
  });

  [[leftRows, P.leftX, P.leftTops], [rightRows, P.rightX, P.rightTops]].forEach(function(side) {
    side[0].forEach(function(row, r) {
      row.forEach(function(name, c) {
        const o = common(name, c === 0);
        Object.assign(o, {
          x: side[1][c], y: side[2][r], w: P.smallW, h: P.smallH, yDomain: P.smallDomain,
          lw: 1.7, cap: 1.4, tickFont: 9.5, chFont: 11, sigFont: 12,
          xPad: 5, yPad: 5, chDy: 30, pDy: 6
        });
        drawPlot(g, o);
      });
    });
  });

  sideLabel(37, P.sideL[0], "Left superior temporal");
  sideLabel(37, P.sideL[1], "Left inferior Parietal");
  sideLabel(1212, P.sideR[0], "Right superior temporal");
  sideLabel(1212, P.sideR[1], "Right inferior parietal");
  P.arrowsL.forEach(function(a) { arrow(36, a[0], a[1]); });
  P.arrowsR.forEach(function(a) { arrow(1210, a[0], a[1]); });
});
</script>
</body>
</html>
